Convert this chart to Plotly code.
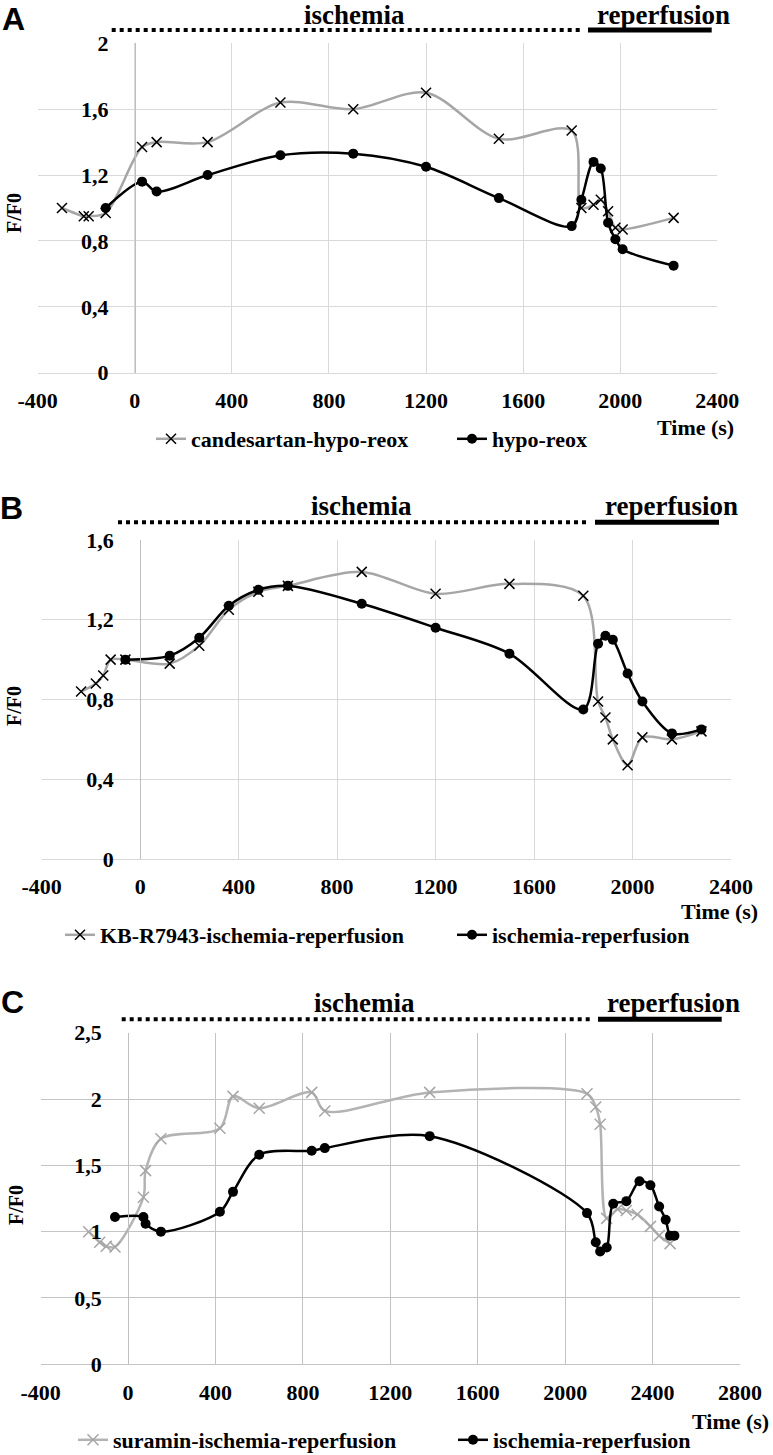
import plotly.graph_objects as go

# ---------------- DATA ----------------
# Panel A
A_T_CAND = [-300, -210, -190, -120, 30, 90, 300, 600, 900, 1200, 1500, 1800, 1840, 1890, 1920, 1950, 1980, 2010, 2220]
A_CAND = [1.00, 0.95, 0.95, 0.97, 1.37, 1.40, 1.40, 1.64, 1.60, 1.70, 1.42, 1.47, 1.00, 1.02, 1.05, 0.98, 0.88, 0.87, 0.94]
A_T_HYPO = [-120, 30, 90, 300, 600, 900, 1200, 1500, 1800, 1840, 1890, 1920, 1950, 1980, 2010, 2220]
A_HYPO = [1.00, 1.16, 1.10, 1.20, 1.32, 1.33, 1.25, 1.06, 0.89, 1.05, 1.28, 1.24, 0.91, 0.81, 0.75, 0.65]

# Panel B
B_T_KB = [-240, -180, -150, -120, -60, 120, 240, 360, 480, 600, 900, 1200, 1500, 1800, 1860, 1890, 1920, 1980, 2040, 2160, 2280]
B_KB = [0.84, 0.88, 0.92, 1.00, 1.00, 0.98, 1.07, 1.25, 1.34, 1.37, 1.44, 1.33, 1.38, 1.32, 0.79, 0.71, 0.60, 0.47, 0.61, 0.60, 0.64]
B_T_IR = [-60, 120, 240, 360, 480, 600, 900, 1200, 1500, 1800, 1860, 1890, 1920, 1980, 2040, 2160, 2280]
B_IR = [1.00, 1.02, 1.11, 1.27, 1.35, 1.37, 1.28, 1.16, 1.03, 0.75, 1.08, 1.12, 1.10, 0.93, 0.79, 0.63, 0.65]

# Panel C
C_T_SUR = [-180, -130, -100, -60, 70, 80, 150, 420, 480, 600, 840, 900, 1380, 2100, 2140, 2160, 2190, 2240, 2280, 2330, 2390, 2430, 2480]
C_SUR = [1.00, 0.92, 0.89, 0.885, 1.26, 1.46, 1.70, 1.78, 2.02, 1.93, 2.05, 1.91, 2.05, 2.04, 1.94, 1.81, 1.10, 1.17, 1.16, 1.13, 1.04, 0.97, 0.91]
C_T_IR = [-60, 70, 80, 150, 420, 480, 600, 840, 900, 1380, 2100, 2140, 2160, 2190, 2220, 2280, 2340, 2390, 2430, 2460, 2480, 2500]
C_IR = [1.11, 1.11, 1.06, 1.00, 1.15, 1.30, 1.58, 1.61, 1.63, 1.72, 1.14, 0.92, 0.85, 0.88, 1.21, 1.23, 1.38, 1.35, 1.19, 1.09, 0.97, 0.97]

# Ticks
X_TICKS_AB = [-400, 0, 400, 800, 1200, 1600, 2000, 2400]
X_TICKS_C = [-400, 0, 400, 800, 1200, 1600, 2000, 2400, 2800]
A_Y_VALS = [0, 0.4, 0.8, 1.2, 1.6, 2.0]
A_Y_TEXT = ["0", "0,4", "0,8", "1,2", "1,6", "2"]
B_Y_VALS = [0, 0.4, 0.8, 1.2, 1.6]
B_Y_TEXT = ["0", "0,4", "0,8", "1,2", "1,6"]
C_Y_VALS = [0, 0.5, 1.0, 1.5, 2.0, 2.5]
C_Y_TEXT = ["0", "0,5", "1", "1,5", "2", "2,5"]

NAMES_A = ["candesartan-hypo-reox", "hypo-reox"]
NAMES_B = ["KB-R7943-ischemia-reperfusion", "ischemia-reperfusion"]
NAMES_C = ["suramin-ischemia-reperfusion", "ischemia-reperfusion"]

# ---------------- LAYOUT HELPERS ----------------
W, H = 773, 1455
SERIF = "Liberation Serif, Times New Roman, serif"
SANS = "Liberation Sans, Arial, sans-serif"
GRAY = "#a6a6a6"
FS = 22


def fx(p):
    return p / W


def fy(p):
    return 1 - p / H


panels = [
    dict(box=(37.7, 717.3, 43.3, 372.7), xr=[-400, 2400], yr=[0, 2], yv=A_Y_VALS, yt=A_Y_TEXT, xt=X_TICKS_AB,
         grid="#d9d9d9"),
    dict(box=(41.7, 731.0, 540.0, 859.0), xr=[-400, 2400], yr=[0, 1.6], yv=B_Y_VALS, yt=B_Y_TEXT, xt=X_TICKS_AB,
         grid="#d9d9d9"),
    dict(box=(40.7, 740.0, 1032.7, 1364.3), xr=[-400, 2800], yr=[0, 2.5], yv=C_Y_VALS, yt=C_Y_TEXT, xt=X_TICKS_C,
         grid="#c4c4c4"),
]

fig = go.Figure()
layout = dict(width=W, height=H, margin=dict(l=0, r=0, t=0, b=0, pad=0, autoexpand=False),
              paper_bgcolor="white", plot_bgcolor="white", showlegend=True,
              font=dict(family=SERIF, size=FS, color="black", weight="bold"))

annotations = []
shapes = []

for i, p in enumerate(panels):
    n = "" if i == 0 else str(i + 1)
    x0, x1, yt_, yb_ = p["box"]
    dx = [fx(x0), fx(x1)]
    dy = [fy(yb_), fy(yt_)]
    zero_frac = dx[0] + (0 - p["xr"][0]) / (p["xr"][1] - p["xr"][0]) * (dx[1] - dx[0])
    layout["xaxis" + n] = dict(domain=dx, range=p["xr"], anchor="y" + n, tickvals=p["xt"],
                               ticktext=[str(v) for v in p["xt"]], automargin=False,
                               showgrid=True, gridcolor=p["grid"], gridwidth=1,
                               zeroline=False, showline=True, linecolor=p["grid"], linewidth=1,
                               ticks="", ticklabelstandoff=8,
                               tickfont=dict(family=SERIF, size=FS, color="black", weight="bold"))
    layout["yaxis" + n] = dict(domain=dy, range=p["yr"], anchor="free", position=zero_frac,
                               tickvals=p["yv"], ticktext=p["yt"], automargin=False,
                               showgrid=True, gridcolor=p["grid"], gridwidth=1,
                               zeroline=False, showline=True, linecolor="#bfbfbf", linewidth=1,
                               ticks="", ticklabelstandoff=22,
                               tickfont=dict(family=SERIF, size=FS, color="black", weight="bold"))

series = [
    (0, A_T_CAND, A_CAND, NAMES_A[0], "gray_x_black"),
    (0, A_T_HYPO, A_HYPO, NAMES_A[1], "black"),
    (1, B_T_KB, B_KB, NAMES_B[0], "gray_x_black"),
    (1, B_T_IR, B_IR, NAMES_B[1], "black"),
    (2, C_T_SUR, C_SUR, NAMES_C[0], "gray_x_gray"),
    (2, C_T_IR, C_IR, NAMES_C[1], "black"),
]

# legend text start x (px), centre y (px)
legend_pos = [
    (193, 439), (494, 439),
    (102, 935), (494, 935),
    (115, 1440), (495, 1440),
]

for k, (pi, xs, ys, name, style) in enumerate(series):
    n = "" if pi == 0 else str(pi + 1)
    lg = "legend" if k == 0 else "legend" + str(k + 1)
    if style == "black":
        line = dict(color="black", width=2.5, shape="spline", smoothing=0.9)
        marker = dict(symbol="circle", size=10, color="black")
    elif style == "gray_x_black":
        line = dict(color=GRAY, width=2.5, shape="spline", smoothing=0.9)
        marker = dict(symbol="x-thin", size=10, color="black", line=dict(color="black", width=1.5))
    else:
        line = dict(color="#b3b3b3", width=2.5, shape="spline", smoothing=0.9)
        marker = dict(symbol="x-thin", size=11, color="#a6a6a6", line=dict(color="#a6a6a6", width=1.5))
    fig.add_trace(go.Scatter(x=xs, y=ys, mode="lines+markers", name=name, line=line, marker=marker,
                             xaxis="x" + n, yaxis="y" + n, legend=lg, cliponaxis=False))
    lx, ly = legend_pos[k]
    layout[lg] = dict(x=fx(lx - 42), y=fy(ly), xanchor="left", yanchor="middle",
                      orientation="h", bgcolor="rgba(0,0,0,0)",
                      font=dict(family=SERIF, size=FS, color="black", weight="bold"),
                      itemwidth=30)

phase = [
    dict(dot=(111.7, 583, 30), sol=(588, 711.7, 30), isch=(354, 15), rep=(663, 15), let=(14, 19), fy=(14, 213), tm=(736, 427), L="A"),
    dict(dot=(118, 590, 522.3), sol=(595, 719, 522.3), isch=(361.5, 506), rep=(671, 506), let=(11, 508), fy=(14, 706), tm=(760, 911.7), L="B"),
    dict(dot=(121.7, 593, 1019.3), sol=(598, 721.7, 1019.3), isch=(364, 1003), rep=(673, 1003), let=(12, 1002), fy=(16, 1205), tm=(771, 1421.7), L="C"),
]
for ph in phase:
    x0, x1, y = ph["dot"]
    shapes.append(dict(type="line", xref="paper", yref="paper", x0=fx(x0), x1=fx(x1), y0=fy(y), y1=fy(y),
                       line=dict(color="black", width=4, dash="4px,4px")))
    x0, x1, y = ph["sol"]
    shapes.append(dict(type="line", xref="paper", yref="paper", x0=fx(x0), x1=fx(x1), y0=fy(y), y1=fy(y),
                       line=dict(color="black", width=5)))
    for key, txt in (("isch", "ischemia"), ("rep", "reperfusion")):
        ax, ay = ph[key]
        annotations.append(dict(xref="paper", yref="paper", x=fx(ax), y=fy(ay), text=txt, showarrow=False,
                                xanchor="center", yanchor="middle", borderpad=0,
                                font=dict(family=SERIF, size=27, color="black", weight="bold")))
    lx, ly = ph["let"]
    annotations.append(dict(xref="paper", yref="paper", x=fx(lx), y=fy(ly), text=ph["L"], showarrow=False,
                            xanchor="center", yanchor="middle", borderpad=0,
                            font=dict(family=SANS, size=32, color="black", weight="bold")))
    fx_, fy_ = ph["fy"]
    annotations.append(dict(xref="paper", yref="paper", x=fx(fx_), y=fy(fy_), text="F/F0", showarrow=False,
                            textangle=-90, xanchor="center", yanchor="middle", borderpad=0,
                            font=dict(family=SERIF, size=20, color="black", weight="bold")))
    tx, ty = ph["tm"]
    annotations.append(dict(xref="paper", yref="paper", x=fx(tx), y=fy(ty), text="Time (s)", showarrow=False,
                            xanchor="right", yanchor="middle",
                            font=dict(family=SERIF, size=FS, color="black", weight="bold")))

layout["annotations"] = annotations
layout["shapes"] = shapes
fig.update_layout(**layout)
fig.write_html(
    "out.html",
    config={"displayModeBar": False},
    post_script="document.documentElement.style.margin='0';document.body.style.margin='0';"
                "document.body.style.padding='0';document.body.style.overflow='hidden';"
                "document.documentElement.style.overflow='hidden';",
)
